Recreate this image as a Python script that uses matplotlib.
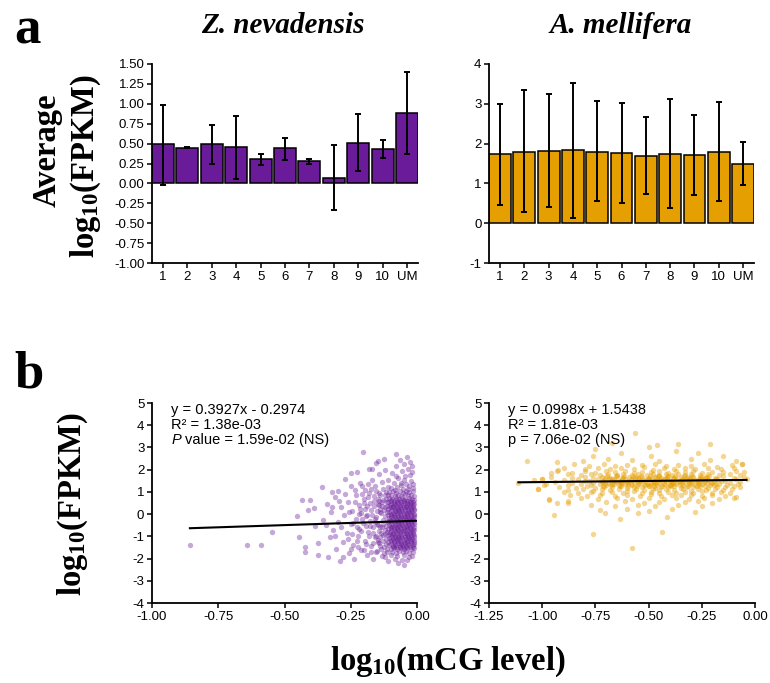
import matplotlib.pyplot as plt
import numpy as np

plt.rcParams['font.family'] = 'Liberation Sans'
plt.rcParams['axes.unicode_minus'] = False
plt.rcParams['mathtext.fontset'] = 'custom'
plt.rcParams['mathtext.rm'] = 'Liberation Serif:bold'
plt.rcParams['mathtext.it'] = 'Liberation Serif:bold'
plt.rcParams['mathtext.bf'] = 'Liberation Serif:bold'

purple = '#6A1B9A'
orange = '#E69F00'

# panel a: average log10(FPKM) per methylation bin
bins = ['1', '2', '3', '4', '5', '6', '7', '8', '9', '10', 'UM']
zn_mean = [0.49, 0.45, 0.49, 0.46, 0.31, 0.44, 0.28, 0.07, 0.51, 0.43, 0.88]
zn_lo = [-0.02, 0.445, 0.25, 0.06, 0.23, 0.30, 0.25, -0.33, 0.16, 0.32, 0.37]
zn_hi = [0.99, 0.455, 0.73, 0.85, 0.37, 0.57, 0.31, 0.48, 0.87, 0.54, 1.40]
am_mean = [1.74, 1.80, 1.82, 1.84, 1.80, 1.76, 1.69, 1.75, 1.72, 1.79, 1.50]
am_lo = [0.46, 0.27, 0.41, 0.14, 0.55, 0.50, 0.73, 0.38, 0.70, 0.55, 0.95]
am_hi = [2.99, 3.34, 3.24, 3.52, 3.08, 3.02, 2.66, 3.13, 2.73, 3.04, 2.05]

# panel b: log10(mCG level) vs log10(FPKM)
zn_pts = np.array([
    (-0.857, -1.41), (-0.643, -1.38), (-0.59, -1.41), (-0.547, -0.79), (-0.454, -0.09),
    (-0.435, 0.63), (-0.404, 0.63), (-0.41, 0.18), (-0.423, -1.47), (-0.424, -1.72),
    (-0.372, -1.84), (-0.375, -1.30), (-0.445, -1.05), (-0.39, 0.28), (-0.385, -0.55),
    (-0.36, 1.22), (-0.355, -0.25), (-0.34, 0.45), (-0.335, -1.95), (-0.33, -1.05),
    (-0.325, 0.1), (-0.322, 1.01), (-0.318, -0.7), (-0.31, 0.75), (-0.305, -1.55),
    (-0.3, -0.35), (-0.298, 1.05), (-0.29, -2.1), (-0.285, 0.3), (-0.28, -1.25),
    (-0.278, -1.92), (-0.275, -0.05), (-0.27, 1.6), (-0.265, -0.85), (-0.26, 0.55),
    (-0.255, -1.75), (-0.25, -0.45), (-0.249, 1.86), (-0.248, 1.25), (-0.245, 0.15),
    (-0.24, -1.4), (-0.238, -2.0), (-0.232, 0.85), (-0.23, -0.2), (-0.225, 1.9),
    (-0.222, -1.0), (-0.22, 0.4), (-0.218, -0.65), (-0.215, 1.4), (-0.212, -1.6),
    (-0.21, 0.05), (-0.205, 2.81), (-0.203, -0.4), (-0.2, 0.7), (-0.198, -1.2),
    (-0.195, 1.1), (-0.193, -0.1), (-0.19, -1.85), (-0.188, 0.35), (-0.185, -0.8),
    (-0.183, 2.05), (-0.18, 0.95), (-0.178, -0.3), (-0.175, -1.45), (-0.173, 0.2),
    (-0.17, 1.55), (-0.169, 2.01), (-0.168, -0.6), (-0.165, -2.0), (-0.163, 0.6),
    (-0.16, -1.05), (-0.158, 1.25), (-0.155, -0.15), (-0.153, 2.3), (-0.15, -1.65),
    (-0.148, 0.45), (-0.146, 2.4), (-0.146, -0.5), (-0.144, 1.8), (-0.142, -1.3),
    (-0.14, 0.1), (-0.138, 0.85), (-0.136, -0.85), (-0.134, 1.45), (-0.132, -1.9),
    (-0.13, -0.25), (-0.128, 0.65), (-0.126, 2.5),
    (-0.124, -1.5), (-0.122, 0.3), (-0.12, -0.7), (-0.118, 1.0), (-0.117, -1.1),
    (-0.115, 0.55), (-0.114, -0.3), (-0.113, -1.7), (-0.112, 0.1), (-0.128, -0.95),
    (-0.133, 0.35), (-0.137, -1.55), (-0.141, -0.6), (-0.145, 0.95), (-0.149, -1.15),
    (-0.152, 0.15), (-0.157, -0.35), (-0.161, 0.8), (-0.166, -1.3), (-0.171, -0.05),
    (-0.176, 0.5), (-0.181, -1.0), (-0.186, 1.35), (-0.191, -0.55), (-0.196, 0.25),
    (-0.201, -1.6), (-0.207, 0.9), (-0.213, -0.75), (-0.219, 0.0), (-0.226, -1.2),
    (-0.233, 0.55), (-0.24, -0.4),
    (-0.155, 1.05), (-0.148, 0.7), (-0.142, 0.4), (-0.135, 0.05), (-0.158, -0.2),
    (-0.15, -0.45), (-0.143, -0.75), (-0.156, -1.0), (-0.147, -1.25), (-0.139, -1.45),
    (-0.153, -1.7), (-0.128, 1.15), (-0.121, 0.85), (-0.131, 0.55), (-0.124, 0.2),
    (-0.119, -0.1), (-0.127, -0.45), (-0.121, -0.9), (-0.13, -1.2), (-0.118, -1.35),
    (-0.123, -1.75), (-0.116, 0.7), (-0.114, 0.35), (-0.116, -0.55), (-0.115, -0.8),
    (-0.113, -1.55), (-0.138, 0.25), (-0.134, -0.6), (-0.14, -1.05), (-0.145, 0.6),
    (-0.295, 0.6), (-0.285, -0.6), (-0.27, 0.9), (-0.262, -1.1), (-0.255, 0.1),
    (-0.245, -0.9), (-0.235, 1.1), (-0.228, -0.6), (-0.221, -1.5), (-0.214, 0.25),
    (-0.206, -0.2), (-0.199, 0.5), (-0.192, -1.35), (-0.186, 0.75), (-0.179, -0.55),
    (-0.172, 1.15), (-0.167, -0.85), (-0.162, 0.35), (-0.174, -1.7), (-0.189, -0.05),
    (-0.206, 1.25), (-0.25, -1.55), (-0.31, -1.0), (-0.32, 0.3), (-0.345, -0.5),
    (-0.104, 0.98), (-0.091, 1.04), (-0.079, 0.95), (-0.066, 1.02), (-0.053, 0.97),
    (-0.041, 1.06), (-0.029, 0.99), (-0.017, 1.03),
    (-0.109, 0.84), (-0.097, 0.88), (-0.085, 0.82), (-0.072, 0.87), (-0.06, 0.83),
    (-0.047, 0.89), (-0.035, 0.84), (-0.023, 0.86), (-0.012, 0.81),
    (-0.106, 0.71), (-0.093, 0.67), (-0.081, 0.73), (-0.069, 0.68), (-0.056, 0.72),
    (-0.044, 0.66), (-0.031, 0.71), (-0.019, 0.69),
    (-0.111, 0.54), (-0.099, 0.57), (-0.087, 0.52), (-0.075, 0.56), (-0.062, 0.53),
    (-0.05, 0.58), (-0.038, 0.52), (-0.026, 0.56), (-0.014, 0.54),
    (-0.103, 0.41), (-0.09, 0.37), (-0.078, 0.42), (-0.065, 0.38), (-0.052, 0.43),
    (-0.04, 0.36), (-0.028, 0.41), (-0.016, 0.39),
    (-0.108, 0.24), (-0.096, 0.28), (-0.084, 0.23), (-0.071, 0.27), (-0.059, 0.22),
    (-0.046, 0.26), (-0.034, 0.23), (-0.022, 0.28), (-0.011, 0.25),
    (-0.105, 0.11), (-0.092, 0.07), (-0.08, 0.12), (-0.067, 0.08), (-0.055, 0.13),
    (-0.043, 0.06), (-0.03, 0.1), (-0.018, 0.08),
    (-0.11, -0.06), (-0.098, -0.02), (-0.086, -0.07), (-0.073, -0.03), (-0.061, -0.08),
    (-0.048, -0.04), (-0.036, -0.07), (-0.024, -0.02), (-0.013, -0.05),
    (-0.104, -0.19), (-0.091, -0.23), (-0.079, -0.18), (-0.066, -0.22), (-0.054, -0.17),
    (-0.041, -0.24), (-0.029, -0.19), (-0.017, -0.21),
    (-0.109, -0.36), (-0.097, -0.32), (-0.085, -0.37), (-0.072, -0.33), (-0.06, -0.38),
    (-0.047, -0.34), (-0.035, -0.37), (-0.023, -0.32), (-0.012, -0.35),
    (-0.106, -0.49), (-0.093, -0.53), (-0.081, -0.48), (-0.068, -0.52), (-0.056, -0.47),
    (-0.043, -0.54), (-0.031, -0.49), (-0.019, -0.51),
    (-0.111, -0.66), (-0.099, -0.62), (-0.087, -0.67), (-0.074, -0.63), (-0.062, -0.68),
    (-0.049, -0.64), (-0.037, -0.67), (-0.025, -0.62), (-0.014, -0.65),
    (-0.103, -0.79), (-0.09, -0.83), (-0.078, -0.78), (-0.065, -0.82), (-0.053, -0.77),
    (-0.04, -0.84), (-0.028, -0.79), (-0.016, -0.81),
    (-0.108, -0.96), (-0.096, -0.92), (-0.084, -0.97), (-0.071, -0.93), (-0.059, -0.98),
    (-0.046, -0.94), (-0.034, -0.97), (-0.022, -0.92), (-0.011, -0.95),
    (-0.105, -1.09), (-0.092, -1.13), (-0.08, -1.08), (-0.067, -1.12), (-0.055, -1.07),
    (-0.042, -1.14), (-0.03, -1.09), (-0.018, -1.11),
    (-0.11, -1.26), (-0.098, -1.22), (-0.086, -1.27), (-0.073, -1.23), (-0.061, -1.28),
    (-0.048, -1.24), (-0.036, -1.27), (-0.024, -1.22), (-0.013, -1.25),
    (-0.104, -1.39), (-0.091, -1.43), (-0.079, -1.38), (-0.066, -1.42), (-0.054, -1.37),
    (-0.041, -1.44), (-0.029, -1.39), (-0.017, -1.41),
    (-0.1, -1.56), (-0.087, -1.52), (-0.074, -1.57), (-0.061, -1.53), (-0.049, -1.58),
    (-0.036, -1.54), (-0.024, -1.57), (-0.013, -1.52),
    (-0.094, -1.69), (-0.08, -1.73), (-0.067, -1.68), (-0.054, -1.72), (-0.041, -1.67),
    (-0.029, -1.74), (-0.017, -1.69),
    (-0.1, 0.62), (-0.088, 0.6), (-0.076, 0.64), (-0.063, 0.61), (-0.05, 0.63),
    (-0.037, 0.6), (-0.025, 0.64), (-0.013, 0.62),
    (-0.098, 0.47), (-0.085, 0.45), (-0.073, 0.49), (-0.06, 0.46), (-0.047, 0.48),
    (-0.035, 0.45), (-0.022, 0.49), (-0.01, 0.47),
    (-0.102, 0.32), (-0.089, 0.3), (-0.077, 0.34), (-0.064, 0.31), (-0.051, 0.33),
    (-0.038, 0.3), (-0.026, 0.34), (-0.014, 0.32),
    (-0.097, 0.17), (-0.084, 0.15), (-0.072, 0.19), (-0.059, 0.16), (-0.046, 0.18),
    (-0.034, 0.15), (-0.021, 0.19), (-0.01, 0.17),
    (-0.1, 0.02), (-0.088, 0.0), (-0.075, 0.04), (-0.063, 0.01), (-0.05, 0.03),
    (-0.037, 0.0), (-0.025, 0.04), (-0.013, 0.02),
    (-0.098, -0.13), (-0.085, -0.15), (-0.073, -0.11), (-0.06, -0.14), (-0.047, -0.12),
    (-0.035, -0.15), (-0.022, -0.11), (-0.01, -0.13),
    (-0.102, -0.28), (-0.089, -0.3), (-0.077, -0.26), (-0.064, -0.29), (-0.051, -0.27),
    (-0.038, -0.3), (-0.026, -0.26), (-0.014, -0.28),
    (-0.097, -0.43), (-0.084, -0.45), (-0.072, -0.41), (-0.059, -0.44), (-0.046, -0.42),
    (-0.034, -0.45), (-0.021, -0.41), (-0.01, -0.43),
    (-0.1, -0.58), (-0.088, -0.6), (-0.075, -0.56), (-0.063, -0.59), (-0.05, -0.57),
    (-0.037, -0.6), (-0.025, -0.56), (-0.013, -0.58),
    (-0.098, -0.73), (-0.085, -0.75), (-0.073, -0.71), (-0.06, -0.74), (-0.047, -0.72),
    (-0.035, -0.75), (-0.022, -0.71), (-0.01, -0.73),
    (-0.102, -0.88), (-0.089, -0.9), (-0.077, -0.86), (-0.064, -0.89), (-0.051, -0.87),
    (-0.038, -0.9), (-0.026, -0.86), (-0.014, -0.88),
    (-0.097, -1.03), (-0.084, -1.05), (-0.072, -1.01), (-0.059, -1.04), (-0.046, -1.02),
    (-0.034, -1.05), (-0.021, -1.01), (-0.01, -1.03),
    (-0.1, -1.18), (-0.088, -1.2), (-0.075, -1.16), (-0.063, -1.19), (-0.05, -1.17),
    (-0.037, -1.2), (-0.025, -1.16), (-0.013, -1.18),
    (-0.098, -1.33), (-0.085, -1.35), (-0.073, -1.31), (-0.06, -1.34), (-0.047, -1.32),
    (-0.035, -1.35), (-0.022, -1.31), (-0.01, -1.33),
    (-0.092, -1.48), (-0.078, -1.5), (-0.065, -1.46), (-0.052, -1.49), (-0.04, -1.47),
    (-0.027, -1.5), (-0.015, -1.46),
    (-0.098, 1.18), (-0.075, 1.22), (-0.052, 1.15), (-0.031, 1.25), (-0.015, 1.17),
    (-0.088, 1.38), (-0.062, 1.42), (-0.04, 1.35), (-0.022, 1.48), (-0.108, 1.55),
    (-0.07, 1.62), (-0.045, 1.7), (-0.027, 1.78), (-0.095, 1.85), (-0.058, 1.95),
    (-0.035, 2.05), (-0.018, 1.9), (-0.08, 2.15), (-0.048, 2.25), (-0.025, 2.35),
    (-0.065, 2.42), (-0.079, 2.7), (-0.039, 2.58), (-0.02, 2.15), (-0.12, 2.0),
    (-0.11, 1.2), (-0.085, 1.1), (-0.06, 1.3), (-0.035, 1.12), (-0.05, 1.52),
    (-0.015, 1.35), (-0.08, 1.7),
    (-0.1, -1.85), (-0.075, -1.9), (-0.05, -1.85), (-0.03, -1.95), (-0.085, -2.02),
    (-0.058, -2.08), (-0.038, -2.05), (-0.049, -2.29), (-0.07, -2.18), (-0.02, -1.88),
    (-0.12, -1.95), (-0.11, -2.1),
])

am_pts = np.array([
    (-0.85, 2.24), (-0.78, 2.17), (-0.71, 2.26), (-0.66, 2.15), (-0.6, 2.22),
    (-0.53, 2.19), (-0.47, 2.25), (-0.42, 2.16), (-0.36, 2.23), (-0.3, 2.18),
    (-0.24, 2.27), (-0.18, 2.14), (-0.11, 2.21), (-0.06, 2.25),
    (-0.9, 2.08), (-0.8, 2.02), (-0.74, 2.09), (-0.68, 2.01), (-0.63, 2.07),
    (-0.57, 2.04), (-0.52, 2.1), (-0.48, 2.0), (-0.43, 2.06), (-0.38, 2.03),
    (-0.33, 2.09), (-0.28, 2.01), (-0.22, 2.07), (-0.16, 2.03), (-0.1, 2.06),
    (-0.93, 1.93), (-0.86, 1.87), (-0.8, 1.94), (-0.75, 1.86), (-0.7, 1.92),
    (-0.66, 1.89), (-0.61, 1.95), (-0.57, 1.85), (-0.53, 1.91), (-0.49, 1.88),
    (-0.45, 1.94), (-0.41, 1.86), (-0.37, 1.92), (-0.33, 1.89), (-0.29, 1.95),
    (-0.25, 1.86), (-0.2, 1.91), (-0.15, 1.88), (-0.09, 1.93),
    (-0.88, 1.8), (-0.82, 1.75), (-0.77, 1.81), (-0.73, 1.74), (-0.69, 1.79),
    (-0.65, 1.76), (-0.62, 1.82), (-0.58, 1.74), (-0.55, 1.8), (-0.51, 1.77),
    (-0.48, 1.82), (-0.45, 1.75), (-0.42, 1.79), (-0.39, 1.76), (-0.36, 1.81),
    (-0.33, 1.74), (-0.3, 1.79), (-0.26, 1.77), (-0.22, 1.82), (-0.17, 1.75),
    (-0.12, 1.8), (-0.07, 1.76),
    (-0.96, 1.68), (-0.86, 1.63), (-0.8, 1.69), (-0.76, 1.62), (-0.72, 1.67),
    (-0.68, 1.64), (-0.65, 1.7), (-0.62, 1.62), (-0.59, 1.68), (-0.56, 1.65),
    (-0.53, 1.69), (-0.5, 1.63), (-0.47, 1.67), (-0.44, 1.64), (-0.41, 1.7),
    (-0.38, 1.62), (-0.35, 1.68), (-0.32, 1.65), (-0.29, 1.69), (-0.26, 1.63),
    (-0.23, 1.67), (-0.19, 1.64), (-0.15, 1.7), (-0.1, 1.62), (-0.05, 1.67),
    (-1.0, 1.57), (-0.9, 1.52), (-0.83, 1.58), (-0.78, 1.51), (-0.74, 1.56),
    (-0.71, 1.53), (-0.67, 1.59), (-0.64, 1.51), (-0.61, 1.57), (-0.58, 1.54),
    (-0.55, 1.58), (-0.52, 1.52), (-0.49, 1.56), (-0.46, 1.53), (-0.43, 1.59),
    (-0.4, 1.51), (-0.37, 1.57), (-0.34, 1.54), (-0.31, 1.58), (-0.28, 1.52),
    (-0.25, 1.56), (-0.22, 1.53), (-0.18, 1.59), (-0.14, 1.51), (-0.09, 1.56),
    (-0.94, 1.46), (-0.86, 1.41), (-0.8, 1.47), (-0.76, 1.4), (-0.72, 1.45),
    (-0.69, 1.42), (-0.66, 1.48), (-0.63, 1.4), (-0.6, 1.46), (-0.57, 1.43),
    (-0.54, 1.47), (-0.51, 1.41), (-0.48, 1.45), (-0.45, 1.42), (-0.42, 1.48),
    (-0.39, 1.4), (-0.36, 1.46), (-0.33, 1.43), (-0.3, 1.47), (-0.27, 1.41),
    (-0.24, 1.45), (-0.2, 1.42), (-0.16, 1.48), (-0.12, 1.4), (-0.07, 1.45),
    (-0.98, 1.35), (-0.88, 1.3), (-0.82, 1.36), (-0.77, 1.29), (-0.73, 1.34),
    (-0.7, 1.31), (-0.67, 1.37), (-0.64, 1.29), (-0.61, 1.35), (-0.58, 1.32),
    (-0.55, 1.36), (-0.52, 1.3), (-0.49, 1.34), (-0.46, 1.31), (-0.43, 1.37),
    (-0.4, 1.29), (-0.37, 1.35), (-0.34, 1.32), (-0.31, 1.36), (-0.28, 1.3),
    (-0.25, 1.34), (-0.21, 1.31), (-0.17, 1.37), (-0.13, 1.29), (-0.08, 1.34),
    (-0.92, 1.24), (-0.84, 1.19), (-0.79, 1.25), (-0.75, 1.18), (-0.71, 1.23),
    (-0.67, 1.2), (-0.63, 1.26), (-0.6, 1.18), (-0.57, 1.24), (-0.53, 1.21),
    (-0.5, 1.25), (-0.47, 1.19), (-0.44, 1.23), (-0.41, 1.2), (-0.38, 1.26),
    (-0.35, 1.18), (-0.32, 1.24), (-0.29, 1.21), (-0.26, 1.25), (-0.22, 1.19),
    (-0.18, 1.23), (-0.14, 1.2), (-0.1, 1.26),
    (-1.02, 1.12), (-0.88, 1.07), (-0.81, 1.13), (-0.76, 1.06), (-0.72, 1.11),
    (-0.68, 1.08), (-0.64, 1.14), (-0.6, 1.06), (-0.56, 1.12), (-0.52, 1.09),
    (-0.48, 1.13), (-0.45, 1.07), (-0.42, 1.11), (-0.38, 1.08), (-0.34, 1.14),
    (-0.3, 1.06), (-0.27, 1.12), (-0.23, 1.09), (-0.19, 1.13), (-0.15, 1.07),
    (-0.11, 1.11),
    (-0.9, 1.0), (-0.83, 0.95), (-0.77, 1.01), (-0.72, 0.94), (-0.67, 0.99),
    (-0.62, 0.96), (-0.57, 1.02), (-0.53, 0.94), (-0.49, 1.0), (-0.45, 0.97),
    (-0.41, 1.01), (-0.37, 0.95), (-0.33, 0.99), (-0.29, 0.96), (-0.25, 1.02),
    (-0.2, 0.94), (-0.16, 1.0), (-0.12, 0.97),
    (-0.87, 0.87), (-0.79, 0.82), (-0.73, 0.88), (-0.66, 0.81), (-0.6, 0.86),
    (-0.54, 0.83), (-0.49, 0.89), (-0.44, 0.81), (-0.39, 0.87), (-0.35, 0.84),
    (-0.3, 0.88), (-0.25, 0.82), (-0.2, 0.86), (-0.14, 0.83),
    (-0.97, 0.68), (-0.82, 0.73), (-0.74, 0.66), (-0.65, 0.72), (-0.58, 0.69),
    (-0.5, 0.74), (-0.43, 0.67), (-0.37, 0.71), (-0.31, 0.68), (-0.24, 0.73),
    (-0.17, 0.66), (-0.1, 0.71),
    (-0.93, 0.52), (-0.88, 0.58), (-0.7, 0.53), (-0.61, 0.57), (-0.52, 0.51),
    (-0.45, 0.56), (-0.33, 0.54), (-0.27, 0.59), (-0.2, 0.52),
    (-0.77, 0.42), (-0.66, 0.37), (-0.55, 0.41), (-0.47, 0.36), (-0.36, 0.43),
    (-0.25, 0.38), (-0.73, 0.17), (-0.6, 0.22), (-0.5, 0.15), (-0.39, 0.21),
    (-0.535, 1.48), (-0.505, 1.6), (-0.475, 1.38), (-0.445, 1.52), (-0.415, 1.62),
    (-0.385, 1.42), (-0.355, 1.5), (-0.325, 1.6), (-0.295, 1.4), (-0.565, 1.62),
    (-0.595, 1.4), (-0.625, 1.55), (-0.655, 1.45), (-0.685, 1.6), (-0.265, 1.5),
    (-0.235, 1.62), (-0.205, 1.4), (-0.45, 1.72), (-0.4, 1.3), (-0.5, 1.28),
    (-0.715, 1.27), (-0.675, 1.29), (-0.635, 1.25), (-0.595, 1.28), (-0.555, 1.26),
    (-0.515, 1.29), (-0.475, 1.25), (-0.435, 1.28), (-0.395, 1.26), (-0.355, 1.29),
    (-0.315, 1.25), (-0.275, 1.28), (-0.235, 1.26), (-0.195, 1.29),
    (-0.705, 1.39), (-0.665, 1.37), (-0.625, 1.4), (-0.585, 1.36), (-0.545, 1.39),
    (-0.505, 1.37), (-0.465, 1.4), (-0.425, 1.36), (-0.385, 1.39), (-0.345, 1.37),
    (-0.305, 1.4), (-0.265, 1.36), (-0.225, 1.39), (-0.185, 1.37),
    (-0.715, 1.5), (-0.675, 1.48), (-0.635, 1.51), (-0.595, 1.47), (-0.555, 1.5),
    (-0.515, 1.48), (-0.475, 1.51), (-0.435, 1.47), (-0.395, 1.5), (-0.355, 1.48),
    (-0.315, 1.51), (-0.275, 1.47), (-0.235, 1.5), (-0.195, 1.48),
    (-0.705, 1.61), (-0.665, 1.59), (-0.625, 1.62), (-0.585, 1.58), (-0.545, 1.61),
    (-0.505, 1.59), (-0.465, 1.62), (-0.425, 1.58), (-0.385, 1.61), (-0.345, 1.59),
    (-0.305, 1.62), (-0.265, 1.58), (-0.225, 1.61), (-0.185, 1.59),
    (-0.695, 1.72), (-0.655, 1.7), (-0.615, 1.73), (-0.575, 1.69), (-0.535, 1.72),
    (-0.495, 1.7), (-0.455, 1.73), (-0.415, 1.69), (-0.375, 1.72), (-0.335, 1.7),
    (-0.295, 1.73), (-0.255, 1.69), (-0.215, 1.72),
    (-0.93, 2.35), (-0.81, 2.4), (-0.58, 2.45), (-0.49, 2.6), (-0.45, 2.38),
    (-0.37, 2.85), (-0.3, 2.5), (-0.27, 2.75), (-0.21, 2.42), (-0.15, 2.6),
    (-0.09, 2.38), (-0.69, 2.5), (-0.76, 2.62), (-0.63, 2.73),
    (-0.565, 3.63), (-0.75, 2.93), (-0.674, 3.19), (-0.212, 3.14), (-0.364, 3.14),
    (-0.463, 3.1), (-0.5, 3.02), (-1.073, 2.4),
    (-0.945, -0.06), (-0.76, -0.9), (-0.58, -1.51), (-0.435, -0.82), (-0.634, -0.24),
    (-0.415, -0.13), (-0.705, 0.06), (-0.55, 0.05), (-0.28, 0.1),
    (-1.112, 1.39), (-1.018, 1.13), (-1.0, 1.6), (-0.97, 0.65), (-0.927, 1.98),
    (-0.88, 0.5), (-1.04, 1.55), (-0.96, 1.85), (-0.99, 1.3),
    (-0.06, 2.25), (-0.05, 1.9), (-0.07, 1.2), (-0.09, 0.75), (-0.04, 1.6),
])

zn_fit = (0.3927, -0.2974)
am_fit = (0.0998, 1.5438)
zn_fit_x = np.array([-0.857, 0.0])
am_fit_x = np.array([-1.112, -0.04])

fig = plt.figure(figsize=(7.7, 6.83), dpi=100)

ax1 = fig.add_axes([0.1974, 0.6149, 0.3455, 0.2914])
ax2 = fig.add_axes([0.6351, 0.6149, 0.3442, 0.2914])
ax3 = fig.add_axes([0.1974, 0.1171, 0.3442, 0.2928])
ax4 = fig.add_axes([0.6351, 0.1171, 0.3455, 0.2928])


def style(ax):
    for s in ['top', 'right']:
        ax.spines[s].set_visible(False)
    for s in ['left', 'bottom']:
        ax.spines[s].set_linewidth(1.3)
    ax.tick_params(direction='out', length=3.5, width=1.1, labelsize=9.5, pad=2)


pos = np.arange(len(bins))
for ax, mean, lo, hi, col in [(ax1, zn_mean, zn_lo, zn_hi, purple),
                              (ax2, am_mean, am_lo, am_hi, orange)]:
    mean = np.array(mean)
    yerr = [mean - np.array(lo), np.array(hi) - mean]
    ax.bar(pos, mean, width=0.9, color=col, edgecolor='black', linewidth=1.1)
    ax.errorbar(pos, mean, yerr=yerr, fmt='none', ecolor='black',
                elinewidth=1.4, capsize=2.3, capthick=1.4)
    ax.set_xticks(pos)
    ax.set_xticklabels(bins)
    ax.set_xlim(-0.45, 10.45)
    style(ax)

ax1.set_ylim(-1.0, 1.5)
ax1.set_yticks(np.arange(-1.0, 1.51, 0.25))
ax1.set_yticklabels(['%.2f' % v for v in np.arange(-1.0, 1.51, 0.25)])
ax2.set_ylim(-1, 4)
ax2.set_yticks(range(-1, 5))

notes = [
    (ax3, zn_pts, zn_fit, zn_fit_x, purple, 0.38,
     ['y = 0.3927x - 0.2974', 'R\u00b2 = 1.38e-03'], 'P', 'value = 1.59e-02 (NS)'),
    (ax4, am_pts, am_fit, am_fit_x, orange, 0.42,
     ['y = 0.0998x + 1.5438', 'R\u00b2 = 1.81e-03'], None, 'p = 7.06e-02 (NS)'),
]
for ax, pts, fit, fx, col, alpha, lines, ital, last in notes:
    ax.scatter(pts[:, 0], pts[:, 1], s=15, color=col, alpha=alpha, linewidths=0)
    ax.plot(fx, fit[0] * fx + fit[1], color='black', lw=1.5)
    ax.set_ylim(-4, 5)
    ax.set_yticks(range(-4, 6))
    style(ax)
    tx = 0.072
    ax.text(tx, 0.945, lines[0], transform=ax.transAxes, fontsize=10.5, va='baseline')
    ax.text(tx, 0.87, lines[1], transform=ax.transAxes, fontsize=10.5, va='baseline')
    if ital:
        ax.text(tx, 0.795, ital, transform=ax.transAxes, fontsize=10.5,
                va='baseline', style='italic')
        ax.annotate(last, xy=(tx, 0.795), xycoords='axes fraction',
                    xytext=(10, 0), textcoords='offset points',
                    fontsize=10.5, va='baseline')
    else:
        ax.text(tx, 0.795, last, transform=ax.transAxes, fontsize=10.5, va='baseline')

ax3.set_xlim(-1.0, 0.0)
ax3.set_xticks(np.arange(-1.0, 0.01, 0.25))
ax3.set_xticklabels(['%.2f' % v for v in np.arange(-1.0, 0.01, 0.25)])
ax4.set_xlim(-1.25, 0.0)
ax4.set_xticks(np.arange(-1.25, 0.01, 0.25))
ax4.set_xticklabels(['%.2f' % v for v in np.arange(-1.25, 0.01, 0.25)])

serif = 'Liberation Serif'
fig.text(0.019, 0.937, 'a', fontsize=38, fontweight='bold', family=serif, va='baseline')
fig.text(0.019, 0.432, 'b', fontsize=38, fontweight='bold', family=serif, va='baseline')
fig.text(283 / 770, 0.952, 'Z. nevadensis', fontsize=21, fontweight='bold',
         style='italic', family=serif, ha='center', va='baseline')
fig.text(621 / 770, 0.952, 'A. mellifera', fontsize=21, fontweight='bold',
         style='italic', family=serif, ha='center', va='baseline')
fig.text(47 / 770, 1 - 150 / 683, 'Average', fontsize=23.5, fontweight='bold',
         family=serif, rotation=90, ha='center', va='center')
fig.text(86 / 770, 1 - 166 / 683, r'log$_{10}$(FPKM)', fontsize=23.5,
         fontweight='bold', family=serif, rotation=90, ha='center', va='center')
fig.text(73 / 770, 1 - 504 / 683, r'log$_{10}$(FPKM)', fontsize=23.5,
         fontweight='bold', family=serif, rotation=90, ha='center', va='center')
fig.text(448 / 770, 1 - 670 / 683, r'log$_{10}$(mCG level)', fontsize=23.5,
         fontweight='bold', family=serif, ha='center', va='baseline')

fig.savefig('out.png', dpi=100)
